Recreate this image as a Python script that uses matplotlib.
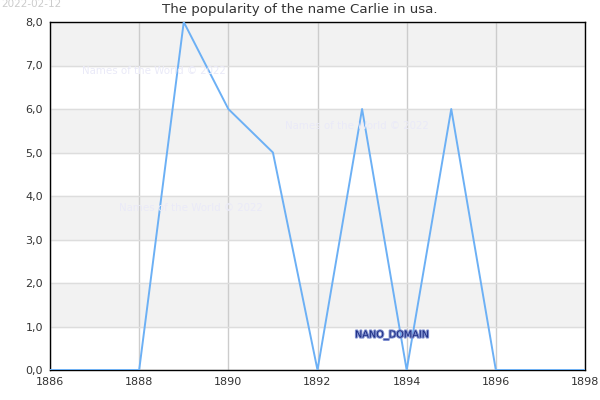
import matplotlib
matplotlib.use('Agg')
import matplotlib.pyplot as plt
import matplotlib.patheffects as pe
from matplotlib.ticker import FuncFormatter

# Data
years = [1886, 1887, 1888, 1889, 1890, 1891, 1892, 1893, 1894, 1895, 1896, 1897, 1898]
counts = [0, 0, 0, 8, 6, 5, 0, 6, 0, 6, 0, 0, 0]
x_ticks = [1886, 1888, 1890, 1892, 1894, 1896, 1898]
y_ticks = [0, 1, 2, 3, 4, 5, 6, 7, 8]

fig = plt.figure(figsize=(6, 4), dpi=100)
ax = fig.add_axes([50 / 600, 1 - 370 / 400, 535 / 600, 348 / 400])

# alternating bands
for lo in range(1, 8, 2):
    ax.axhspan(lo, lo + 1, color='#f2f2f2', zorder=0)

ax.plot(years, counts, color='#6cb0f5', linewidth=1.4, zorder=3)

ax.set_xlim(1886, 1898)
ax.set_ylim(0, 8)
ax.set_xticks(x_ticks)
ax.set_yticks(y_ticks)
ax.yaxis.set_major_formatter(FuncFormatter(lambda v, p: f'{v:.1f}'.replace('.', ',')))
ax.tick_params(length=0, labelsize=8, colors='#333333', pad=5)

ax.grid(axis='y', color='#dddddd', linewidth=1, zorder=1)
ax.grid(axis='x', color='#cccccc', linewidth=1, zorder=1)
ax.set_axisbelow(True)
for s in ax.spines.values():
    s.set_color('black')
    s.set_linewidth(1)

# title centred on the figure
fig.text(0.5, 1 - 10 / 400, 'The popularity of the name Carlie in usa.', fontsize=9.6,
         color='#333333', ha='center', va='center')

# watermarks
wm_color = '#eaeaf8'
for (px, py) in [(82, 71), (285, 126), (119, 208)]:
    fig.text(px / 600, 1 - py / 400, 'Names of the World © 2022', fontsize=7.4,
             color=wm_color, va='center', ha='left', zorder=2)

fig.text(355 / 600, 1 - 335 / 400, 'NANO_DOMAIN', fontsize=7, color='#1a2a80',
         va='center', ha='left',
         path_effects=[pe.withStroke(linewidth=1.5, foreground='#8090d0')])

fig.text(0.002, 1 - 4 / 400, '2022-02-12', fontsize=7.5, color='#cccccc',
         va='center', ha='left')

fig.savefig('out.png', dpi=100)
